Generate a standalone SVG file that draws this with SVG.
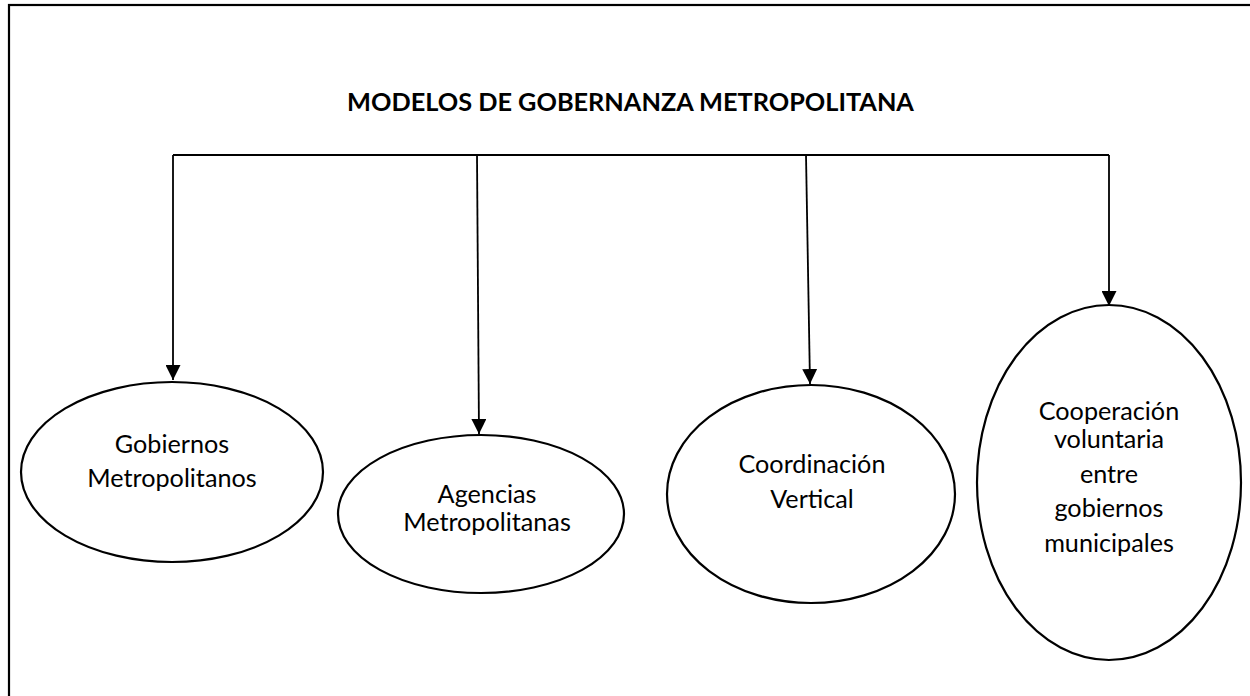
<svg xmlns="http://www.w3.org/2000/svg" width="1250" height="696" viewBox="0 0 1250 696">
<style>
.frame{fill:none;stroke:#000;stroke-width:2.2}
.conn{fill:none;stroke:#000;stroke-width:1.8}
.node{fill:#fff;stroke:#000;stroke-width:2.2}
.lbl{font-family:Lato,"Open Sans",sans-serif;font-size:25.2px;fill:#000;text-anchor:middle}
.title{font-family:Lato,"Open Sans",sans-serif;font-size:25.3px;font-weight:bold;fill:#000;text-anchor:middle}
</style>
<defs>
<marker id="arr" viewBox="0 0 15 15" refX="15" refY="7.5" markerWidth="15" markerHeight="15" markerUnits="userSpaceOnUse" orient="auto">
<path d="M0,0 L15,7.5 L0,15 Z" fill="#000"/>
</marker>
</defs>
<rect width="1250" height="696" fill="#fff"/>
<rect class="frame" x="9" y="5" width="1260" height="720"/>
<text id="title" class="title" x="630.5" y="111">MODELOS DE GOBERNANZA METROPOLITANA</text>
<g id="connectors">
<polyline class="conn" points="173,155 1109,155"/>
<line class="conn" x1="173" y1="155" x2="173" y2="380" marker-end="url(#arr)"/>
<line class="conn" x1="477" y1="155" x2="479" y2="434" marker-end="url(#arr)"/>
<line class="conn" x1="806" y1="155" x2="810" y2="384" marker-end="url(#arr)"/>
<line class="conn" x1="1109" y1="155" x2="1109" y2="306" marker-end="url(#arr)"/>
</g>
<g id="n1">
<ellipse class="node" cx="172" cy="472" rx="151" ry="90"/>
<text class="lbl" x="172" y="453">Gobiernos</text>
<text class="lbl" x="172" y="487">Metropolitanos</text>
</g>
<g id="n2">
<ellipse class="node" cx="481" cy="514" rx="143" ry="79"/>
<text class="lbl" x="487" y="503">Agencias</text>
<text class="lbl" x="487" y="531">Metropolitanas</text>
</g>
<g id="n3">
<ellipse class="node" cx="811" cy="494" rx="144" ry="109"/>
<text class="lbl" x="812" y="473">Coordinación</text>
<text class="lbl" x="812" y="508">Vertical</text>
</g>
<g id="n4">
<ellipse class="node" cx="1109" cy="482.5" rx="132" ry="177.5"/>
<text class="lbl" x="1109" y="420">Cooperación</text>
<text class="lbl" x="1109" y="448">voluntaria</text>
<text class="lbl" x="1109" y="483">entre</text>
<text class="lbl" x="1109" y="517">gobiernos</text>
<text class="lbl" x="1109" y="552">municipales</text>
</g>
</svg>
